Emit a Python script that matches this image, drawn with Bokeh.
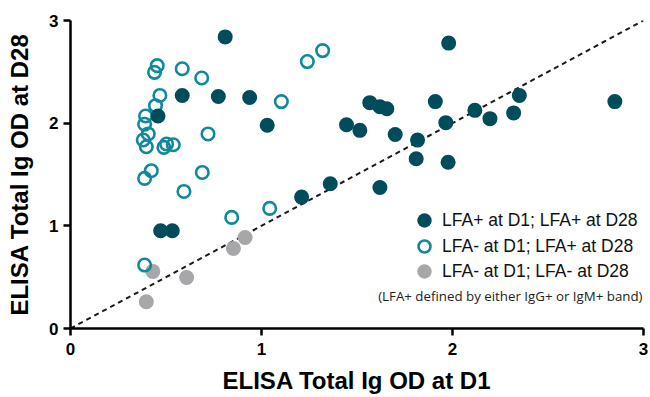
from bokeh.plotting import figure
from bokeh.models import Range1d, Legend, LegendItem, Label, FixedTicker
from bokeh.embed import file_html
from bokeh.resources import INLINE

# ---- data ----
pos_pos_x = [0.81, 1.98, 0.585, 0.774, 0.938, 0.458, 1.03, 1.36, 1.21, 0.472, 0.533,
             1.567, 1.62, 1.656, 1.91, 1.445, 1.515, 1.70, 1.817, 1.965, 2.117, 2.196,
             2.32, 2.35, 2.85, 1.81, 1.977, 1.62]
pos_pos_y = [2.84, 2.78, 2.27, 2.26, 2.25, 2.07, 1.98, 1.41, 1.28, 0.952, 0.952,
             2.20, 2.16, 2.14, 2.21, 1.985, 1.93, 1.89, 1.835, 2.005, 2.125, 2.044,
             2.10, 2.27, 2.21, 1.654, 1.62, 1.374]

neg_pos_x = [0.454, 0.44, 0.585, 0.687, 0.468, 0.445, 0.393, 0.388, 0.407, 0.381, 0.397,
             0.489, 0.503, 0.538, 0.72, 1.104, 1.24, 1.32, 0.423, 0.388, 0.69, 0.594,
             0.844, 1.043, 0.388]
neg_pos_y = [2.56, 2.495, 2.53, 2.44, 2.27, 2.17, 2.07, 1.99, 1.895, 1.836, 1.77,
             1.764, 1.797, 1.79, 1.895, 2.21, 2.60, 2.707, 1.537, 1.462, 1.52, 1.335,
             1.082, 1.17, 0.618]

neg_neg_x = [0.431, 0.397, 0.608, 0.853, 0.914]
neg_neg_y = [0.556, 0.26, 0.497, 0.78, 0.887]

identity = [0, 3]
x_ticks = [0, 1, 2, 3]
y_ticks = [0, 1, 2, 3]

series_labels = ["LFA+ at D1; LFA+ at D28", "LFA- at D1; LFA+ at D28", "LFA- at D1; LFA- at D28"]
note_text = "(LFA+ defined by either IgG+ or IgM+ band)"
x_title = "ELISA Total Ig OD at D1"
y_title = "ELISA Total Ig OD at D28"

DARK = "#004c5b"
TEAL = "#10899a"
GRAY = "#a7a7aa"
FONT = "Liberation Sans"

p = figure(width=650, height=397, output_backend="svg", toolbar_location=None,
           x_range=Range1d(0, 3), y_range=Range1d(0, 3),
           min_border_left=70, min_border_right=7, min_border_top=20, min_border_bottom=69)
p.outline_line_color = None
p.grid.visible = False

p.xaxis.axis_label = x_title
p.yaxis.axis_label = y_title
p.xaxis.ticker = FixedTicker(ticks=x_ticks)
p.yaxis.ticker = FixedTicker(ticks=y_ticks)
for ax in (p.xaxis[0], p.yaxis[0]):
    ax.axis_line_width = 2.5
    ax.axis_line_color = "black"
    ax.major_tick_line_width = 2.5
    ax.major_tick_line_color = "black"
    ax.major_tick_out = 7
    ax.major_tick_in = 0
    ax.minor_tick_line_color = None
    ax.major_label_text_font = FONT
    ax.major_label_text_font_style = "bold"
    ax.major_label_text_font_size = "17px"
    ax.major_label_text_color = "black"
    ax.axis_label_text_font = FONT
    ax.axis_label_text_font_style = "bold"
    ax.axis_label_text_font_size = "24px"
    ax.axis_label_text_color = "black"
p.xaxis.major_label_standoff = 7
p.xaxis.axis_label_standoff = 9
p.yaxis.major_label_standoff = 5
p.yaxis.axis_label_standoff = 13

p.line(identity, identity, line_dash="5 4", line_width=2, line_color="#1a1a1a")

r_gray = p.scatter(neg_neg_x, neg_neg_y, marker="circle", size=15, fill_color=GRAY, line_color=None)
r_teal = p.scatter(neg_pos_x, neg_pos_y, marker="circle", size=12.5, fill_color=None,
                   line_color=TEAL, line_width=2.6)
r_dark = p.scatter(pos_pos_x, pos_pos_y, marker="circle", size=15, fill_color=DARK, line_color=None)

# one legend per row so that the rows can sit closer than the glyph boxes
legend_rows = [
    (series_labels[0], r_dark, 36, 336, 89, 0),
    (series_labels[1], r_teal, 30, 339, 63, 3),
    (series_labels[2], r_gray, 36, 336, 38, 0),
]
for label, rend, gw, lx, ly, stand in legend_rows:
    lg = Legend(items=[LegendItem(label=label, renderers=[rend])],
                location=(lx, ly), glyph_width=gw, glyph_height=38,
                label_standoff=stand, padding=0, margin=0, border_line_color=None,
                background_fill_alpha=0, label_text_font=FONT, label_text_font_size="17.5px",
                label_text_color="#111111")
    p.add_layout(lg)

note = Label(x=2.995, y=0.319, text=note_text, text_align="right", text_baseline="middle",
             text_font="Open Sans", text_font_size="13.3px", text_color="#222222")
p.add_layout(note)

open("out.html", "w").write(file_html(p, INLINE))
